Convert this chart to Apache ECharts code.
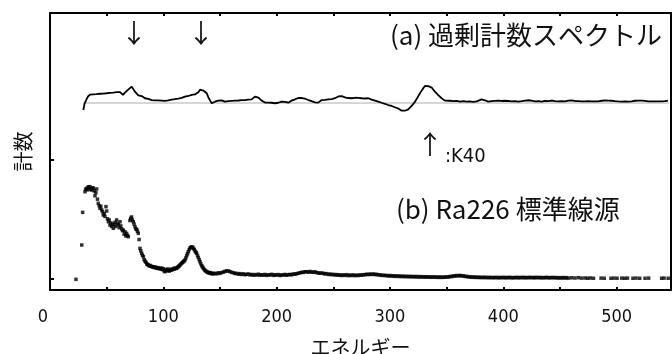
<!DOCTYPE html>
<html><head><meta charset="utf-8">
<script src="https://cdn.jsdelivr.net/npm/echarts@6/dist/echarts.min.js"></script>
<style>html,body{margin:0;padding:0;background:#fff}#c{width:672px;height:354px}</style>
</head><body><div id="c"></div>
<script>
// Axis ticks and labels (energy)
const xTickValues = [0,50,100,150,200,250,300,350,400,450,500];
const xLabelValues = [0,100,200,300,400,500];
const yTickValues = [0,100];

// Text
const titleA = '(a) 過剰計数スペクトル';
const titleB = '(b) Ra226 標準線源';
const k40Label = ':K40';
const xName = 'エネルギー';
const yName = '計数';

// (a) excess count spectrum [energy, counts (offset units)]
const excessA = [[29.4,142.1],[30.5,147.5],[32.4,151.5],[33.5,153.5],[35.3,155.0],[36.8,154.0],[38.2,155.3],[39.7,154.6],[41.2,155.4],[42.6,154.5],[44.1,155.8],[45.6,154.8],[47.0,155.9],[48.5,155.0],[50.0,156.2],[51.2,155.3],[52.9,156.5],[54.4,155.7],[55.9,156.8],[57.4,156.2],[58.8,157.2],[60.3,156.3],[61.8,157.2],[63.2,155.8],[64.4,154.8],[65.9,156.5],[67.4,158.0],[68.8,159.0],[70.4,160.5],[72.1,161.8],[73.5,160.2],[75.0,157.5],[76.5,156.0],[77.9,154.5],[79.4,153.3],[80.9,153.8],[82.4,152.5],[83.8,152.0],[85.3,152.6],[86.8,151.4],[88.2,151.9],[89.7,150.5],[91.2,151.2],[92.6,150.2],[94.1,150.9],[95.6,150.2],[97.1,150.9],[98.5,150.0],[100.0,150.6],[101.5,149.8],[103.0,150.7],[104.4,150.2],[105.9,151.2],[107.4,150.8],[108.8,151.6],[110.3,151.2],[111.8,152.0],[113.2,151.7],[114.7,152.6],[116.2,152.3],[117.6,153.2],[119.1,153.3],[120.6,154.2],[122.1,153.9],[123.5,154.8],[125.0,154.8],[126.5,155.4],[127.9,155.2],[129.4,155.6],[130.9,157.0],[132.4,159.2],[133.9,160.4],[135.3,158.5],[136.8,157.5],[138.3,156.2],[139.7,153.0],[141.2,150.2],[142.7,147.8],[144.1,148.8],[145.6,149.1],[147.1,150.4],[148.5,150.0],[150.0,151.1],[151.5,150.2],[153.0,149.5],[154.4,149.1],[155.9,149.9],[157.4,149.6],[158.8,150.4],[160.3,149.8],[161.8,150.5],[163.2,150.0],[164.7,150.6],[166.2,150.1],[167.6,150.8],[169.1,150.4],[170.6,150.9],[172.1,150.5],[173.5,151.3],[175.0,150.9],[176.5,151.5],[178.0,151.1],[179.4,152.3],[180.9,153.4],[182.4,154.2],[183.8,152.6],[185.3,151.0],[186.8,150.0],[188.2,148.9],[189.7,148.4],[191.2,147.8],[192.6,148.3],[194.1,147.6],[195.6,148.2],[197.1,147.5],[198.5,147.8],[200.0,148.4],[201.5,148.2],[203.0,149.0],[204.4,149.1],[205.9,148.5],[207.4,149.0],[208.8,148.2],[210.3,148.3],[211.8,149.2],[213.2,150.0],[214.7,150.6],[216.2,151.1],[217.6,151.8],[219.1,152.2],[220.6,152.8],[222.1,152.2],[223.5,151.5],[225.0,151.6],[226.5,151.1],[228.0,150.5],[229.4,150.2],[230.9,149.6],[232.3,149.1],[233.8,148.6],[235.3,148.5],[236.7,148.3],[238.2,149.0],[239.7,150.5],[241.2,150.8],[242.6,150.6],[244.1,151.2],[245.6,151.1],[247.1,151.4],[248.5,151.3],[250.0,152.0],[251.5,152.0],[253.0,152.6],[254.4,153.5],[255.9,154.2],[257.4,153.8],[258.8,153.4],[260.3,152.8],[261.8,152.8],[263.2,152.2],[264.7,152.6],[266.2,152.0],[267.6,152.0],[269.1,152.4],[270.6,151.9],[272.1,152.3],[273.5,151.9],[275.0,152.0],[276.5,152.3],[278.0,151.8],[279.4,152.2],[280.9,152.0],[282.4,151.3],[283.8,150.8],[285.3,150.5],[286.8,150.0],[288.2,149.6],[289.7,149.2],[291.2,148.8],[292.6,148.2],[294.1,147.8],[295.6,147.2],[297.1,146.9],[298.5,146.3],[300.0,145.9],[301.5,145.5],[303.0,144.9],[304.4,144.4],[305.9,144.0],[307.4,143.3],[308.8,142.4],[310.3,141.5],[311.7,140.7],[313.2,141.5],[314.7,142.0],[316.2,142.6],[317.7,143.6],[319.1,145.5],[320.6,147.3],[322.1,149.1],[323.5,151.3],[325.0,153.8],[326.5,156.2],[327.9,158.4],[329.4,160.5],[330.9,162.3],[332.4,162.6],[333.8,162.2],[335.3,162.3],[336.8,161.0],[338.2,159.4],[339.7,157.5],[341.2,156.0],[342.6,154.6],[344.1,153.3],[345.6,152.0],[347.1,151.0],[348.5,150.0],[350.0,149.7],[352.9,149.9],[355.9,149.5],[358.8,149.8],[361.8,149.2],[364.7,149.6],[367.6,149.1],[370.6,149.3],[373.5,149.0],[376.5,149.4],[378.0,150.2],[380.9,151.1],[383.8,150.3],[386.7,149.1],[389.7,149.6],[392.6,149.8],[395.6,150.0],[398.5,149.7],[401.5,149.9],[404.4,149.7],[407.4,149.3],[410.3,149.6],[413.2,149.1],[416.2,149.5],[419.1,150.0],[422.1,150.3],[425.0,150.0],[427.9,149.4],[430.9,149.6],[433.8,149.2],[436.8,149.8],[439.7,149.5],[442.6,150.1],[445.6,149.6],[448.5,149.4],[451.5,149.6],[454.4,149.4],[457.4,150.0],[460.3,150.1],[463.2,149.7],[466.2,149.6],[469.1,149.4],[472.1,149.4],[475.0,149.5],[477.9,149.3],[480.9,149.3],[483.8,149.4],[486.8,149.9],[489.7,150.1],[492.6,150.0],[495.6,149.9],[498.5,149.5],[501.5,149.3],[504.4,149.2],[507.4,149.3],[510.3,149.2],[513.2,149.4],[516.2,149.9],[519.1,150.0],[522.1,150.0],[525.0,149.7],[527.9,149.4],[530.9,149.3],[533.8,149.4],[536.8,149.3],[539.7,149.4],[542.6,149.5],[545.3,150.0]];

// zero reference for (a)
const zeroLineA = [[29.4,148.0],[546.0,148.0]];

// (b) Ra226 standard source spectrum [energy, counts]
const ra226B = [[22.9,-0.5],[28.0,28.4],[28.8,55.9],[30.9,73.3],[31.5,75.5],[32.4,76.2],[33.1,74.8],[33.8,77.5],[34.6,76.0],[35.3,77.5],[36.1,75.2],[36.8,74.7],[37.5,76.5],[38.2,76.3],[39.0,73.9],[39.7,69.9],[40.5,72.5],[41.2,75.6],[41.9,67.0],[42.6,63.5],[43.4,61.5],[44.1,59.3],[44.8,61.0],[45.6,58.0],[46.3,56.5],[47.0,53.7],[47.8,55.0],[48.5,52.5],[49.4,60.7],[50.0,57.0],[50.7,50.5],[51.5,48.0],[52.2,49.5],[52.9,45.2],[53.7,47.0],[54.4,44.0],[55.1,46.0],[55.9,42.5],[56.6,45.5],[57.3,47.5],[58.1,44.0],[58.8,49.5],[59.6,46.5],[60.3,45.5],[61.1,43.0],[61.8,48.0],[62.5,44.5],[63.2,42.0],[64.0,40.5],[64.7,41.0],[65.4,37.5],[66.2,39.5],[66.9,36.0],[67.6,38.2],[68.4,36.5],[69.1,35.4],[70.5,49.0],[71.2,50.9],[72.0,52.0],[72.7,49.5],[73.5,48.0],[74.2,46.0],[75.0,43.8],[75.7,42.0],[76.5,41.5],[77.2,40.0],[77.9,38.2],[78.6,33.0],[79.4,25.6],[80.1,23.5],[80.9,21.4],[81.6,19.8],[82.4,18.5],[83.1,16.0],[83.9,14.8],[84.7,13.8],[85.4,12.5],[86.1,12.0],[86.8,11.5],[87.6,10.8],[88.3,11.2],[89.0,10.5],[89.8,10.3],[90.5,9.8],[91.2,10.1],[92.0,9.5],[92.7,9.9],[93.4,9.0],[94.2,9.4],[94.9,8.7],[95.6,9.2],[96.4,8.5],[97.1,8.8],[97.8,8.1],[98.6,8.9],[99.3,7.6],[100.0,8.4],[100.8,6.5],[101.5,5.9],[102.2,7.6],[103.0,6.8],[103.7,8.2],[104.4,7.0],[105.2,6.4],[105.9,7.3],[106.6,8.0],[107.4,7.2],[108.2,7.9],[109.0,8.6],[109.7,8.2],[110.4,9.0],[111.2,8.6],[111.8,8.8],[112.6,9.6],[113.3,10.2],[114.0,10.8],[114.7,11.5],[115.5,12.4],[116.2,13.0],[117.0,13.8],[117.7,14.4],[118.4,15.0],[119.1,15.8],[119.9,17.5],[120.6,19.3],[121.3,21.0],[122.0,22.7],[122.8,24.5],[123.5,25.8],[124.2,26.4],[125.0,26.8],[125.9,26.5],[126.6,25.6],[127.3,24.5],[128.1,23.2],[128.8,22.3],[129.4,21.4],[130.2,19.5],[130.9,17.8],[131.7,16.0],[132.4,14.3],[133.1,12.5],[133.9,11.0],[134.6,9.9],[135.3,8.8],[136.1,7.8],[136.8,7.0],[137.5,6.5],[138.3,5.8],[139.0,5.6],[139.7,5.1],[140.5,4.8],[141.2,5.2],[142.0,4.5],[142.7,4.3],[143.4,4.6],[144.1,4.0],[145.6,4.6],[147.1,4.1],[148.5,5.0],[150.0,4.5],[151.5,5.2],[153.0,5.6],[154.4,6.2],[155.9,6.6],[157.4,6.5],[158.8,6.0],[160.3,5.4],[161.8,5.0],[163.2,4.4],[164.7,4.5],[166.2,3.8],[167.6,4.3],[169.1,3.6],[170.6,4.1],[172.1,3.4],[173.5,3.7],[175.0,4.0],[176.5,3.2],[178.0,3.6],[179.4,3.0],[180.9,3.5],[182.4,3.1],[183.8,3.8],[185.3,2.9],[186.8,3.4],[188.2,3.0],[189.7,3.6],[191.2,2.8],[192.6,3.3],[194.1,3.1],[195.6,3.7],[197.1,2.8],[198.5,3.4],[200.0,3.0],[201.5,3.5],[203.0,2.7],[204.4,3.2],[205.9,3.1],[207.4,3.6],[208.8,2.9],[210.3,3.4],[211.8,3.6],[213.2,3.3],[214.7,4.0],[216.2,3.8],[217.6,4.2],[219.1,4.6],[220.6,5.0],[222.1,5.4],[223.5,5.3],[225.0,5.9],[226.5,5.9],[228.0,5.5],[229.4,6.1],[230.9,5.6],[232.3,5.4],[233.8,5.8],[235.3,5.2],[236.7,4.9],[238.2,4.6],[239.7,4.8],[241.2,4.5],[242.6,4.0],[244.1,4.3],[245.6,3.6],[247.1,3.9],[248.5,3.4],[250.0,3.7],[251.5,3.1],[253.0,3.5],[254.4,2.9],[255.9,3.3],[257.4,2.7],[258.8,3.2],[260.3,2.8],[261.8,3.4],[263.2,2.6],[264.7,3.1],[266.2,2.7],[267.6,3.2],[269.1,2.6],[270.6,3.0],[272.1,2.7],[273.5,3.2],[275.0,3.0],[276.5,3.4],[278.0,3.3],[279.4,3.8],[280.9,3.5],[282.4,3.9],[283.8,3.6],[285.3,4.0],[286.8,3.5],[288.2,3.7],[289.7,3.2],[291.2,3.3],[292.6,2.8],[294.1,3.0],[295.6,2.6],[297.1,2.8],[298.5,2.3],[300.0,2.7],[301.5,2.2],[303.0,2.5],[304.4,2.0],[305.9,2.4],[307.4,1.9],[308.8,2.3],[310.3,1.8],[311.7,2.2],[313.2,1.7],[314.7,2.1],[316.2,1.6],[317.7,2.0],[319.1,1.6],[320.6,1.9],[322.1,1.5],[323.5,1.9],[325.0,1.4],[326.5,1.8],[327.9,1.4],[329.4,1.7],[330.9,1.3],[332.4,1.7],[333.8,1.3],[335.3,1.6],[336.8,1.2],[338.2,1.6],[339.7,1.2],[341.2,1.5],[342.6,1.1],[344.1,1.5],[345.6,1.1],[347.1,1.4],[348.5,1.2],[350.0,1.6],[351.5,1.4],[352.9,1.9],[354.4,1.8],[355.9,2.4],[357.4,2.2],[358.8,2.7],[360.3,2.4],[361.8,2.8],[363.2,2.3],[364.7,2.5],[366.2,1.9],[367.6,2.0],[369.1,1.5],[370.6,1.7],[372.1,1.2],[373.5,1.5],[375.0,1.1],[376.5,1.4],[378.0,1.0],[379.4,1.3],[380.9,0.9],[382.4,1.3],[383.8,0.9],[385.3,1.2],[386.8,0.8],[388.2,1.2],[389.7,0.8],[391.2,1.1],[392.6,0.8],[394.1,1.2],[395.6,0.7],[397.1,1.1],[398.5,0.8],[400.0,1.2],[401.5,0.7],[403.0,1.1],[404.4,0.8],[405.9,1.2],[407.4,0.7],[408.8,1.0],[410.3,0.8],[411.8,1.2],[413.2,0.7],[414.7,1.1],[416.2,0.8],[417.6,1.2],[419.1,0.7],[420.6,1.1],[422.1,0.8],[423.5,1.2],[425.0,0.8],[426.5,1.1],[427.9,0.7],[429.4,1.2],[430.9,0.8],[432.4,1.1],[433.8,0.7],[435.3,1.0],[436.8,0.8],[438.2,1.2],[439.7,0.7],[441.2,1.0],[442.6,0.8],[444.1,1.1],[445.6,0.7],[447.1,1.0],[448.5,0.6],[450.0,0.9],[451.5,0.6],[452.9,1.0],[454.4,0.6],[455.9,0.9],[457.4,0.5],[460.3,0.8],[463.2,0.6],[466.2,0.9],[469.1,0.5],[472.1,0.6],[474.4,0.4],[476.8,0.6],[479.6,0.4],[486.3,0.5],[489.1,0.4],[495.0,0.4],[497.6,0.5],[500.4,0.4],[504.5,0.5],[507.2,0.4],[509.6,0.5],[514.4,0.4],[517.2,0.5],[520.4,0.4],[525.1,0.4],[528.3,0.5],[539.7,0.4],[541.9,0.5],[545.5,0.4]];

const chart = echarts.init(document.getElementById('c'), null, {renderer: 'canvas'});
const ink = '#111';
const cjk = '"Noto Sans CJK JP", "Noto Sans", sans-serif';
const narrow = '"Liberation Sans Narrow", "DejaVu Sans Condensed", sans-serif';

chart.setOption({
  animation: false,
  backgroundColor: '#fff',
  grid: {left: 50, right: 1, top: 13, bottom: 64, containLabel: false, outerBoundsMode: 'none'},
  xAxis: [{
    type: 'value', position: 'bottom', min: 0, max: 548,
    name: xName, nameLocation: 'middle', nameGap: 47,
    nameTextStyle: {fontFamily: cjk, fontSize: 20, color: ink},
    axisLine: {show: true, onZero: false, lineStyle: {color: '#000', width: 2}},
    axisTick: {show: true, inside: true, length: 3, customValues: xTickValues, lineStyle: {color: '#000', width: 2}},
    axisLabel: {show: true, customValues: xLabelValues, margin: 18, fontFamily: narrow, fontSize: 18, color: ink,
      formatter: function (v) { return v === 0 ? '{z|0}' : String(v); },
      rich: {z: {fontFamily: narrow, fontSize: 18, color: ink, padding: [0, 14, 0, 0]}}},
    splitLine: {show: false}
  }, {
    type: 'value', position: 'top', min: 0, max: 548,
    axisLine: {show: true, onZero: false, lineStyle: {color: '#000', width: 2}},
    axisTick: {show: true, inside: true, length: 3, customValues: xTickValues, lineStyle: {color: '#000', width: 2}},
    axisLabel: {show: false},
    splitLine: {show: false}
  }],
  yAxis: [{
    type: 'value', position: 'left', min: -9.5, max: 223.8,
    name: yName, nameLocation: 'middle', nameGap: 17,
    nameTextStyle: {fontFamily: cjk, fontSize: 20, color: ink},
    axisLine: {show: true, onZero: false, lineStyle: {color: '#000', width: 2}},
    axisTick: {show: true, inside: true, length: 4, customValues: yTickValues, lineStyle: {color: '#000', width: 2}},
    axisLabel: {show: false},
    splitLine: {show: false}
  }, {
    type: 'value', position: 'right', min: -9.5, max: 223.8,
    axisLine: {show: true, onZero: false, lineStyle: {color: '#000', width: 2}},
    axisTick: {show: false}, axisLabel: {show: false}, splitLine: {show: false}
  }],
  series: [{
    name: 'zero', type: 'line', data: zeroLineA, symbol: 'none',
    lineStyle: {color: '#d6d6d6', width: 2}, z: 1, silent: true
  }, {
    name: '(a)', type: 'line', data: excessA, symbol: 'none',
    lineStyle: {color: '#000', width: 1.8}, z: 3
  }, {
    name: '(b)', type: 'scatter', data: ra226B, symbol: 'rect', symbolSize: 3.5,
    itemStyle: {color: '#000'}, z: 3
  }],
  graphic: [
    {type: 'text', x: 134, y: 33, style: {text: '↓', fontFamily: cjk, fontSize: 26, fill: ink, align: 'center', verticalAlign: 'middle'}},
    {type: 'text', x: 201, y: 33, style: {text: '↓', fontFamily: cjk, fontSize: 26, fill: ink, align: 'center', verticalAlign: 'middle'}},
    {type: 'text', x: 430, y: 144, style: {text: '↑', fontFamily: cjk, fontSize: 26, fill: ink, align: 'center', verticalAlign: 'middle'}},
    {type: 'text', x: 445, y: 157, style: {text: k40Label, fontFamily: narrow, fontSize: 20, fill: ink, align: 'left', verticalAlign: 'middle'}},
    {type: 'text', x: 390, y: 35, style: {text: titleA, fontFamily: cjk, fontSize: 26, fill: ink, align: 'left', verticalAlign: 'middle'}},
    {type: 'text', x: 396, y: 209, style: {text: titleB, fontFamily: cjk, fontSize: 26, fill: ink, align: 'left', verticalAlign: 'middle'}}
  ]
});
</script>
</body></html>
